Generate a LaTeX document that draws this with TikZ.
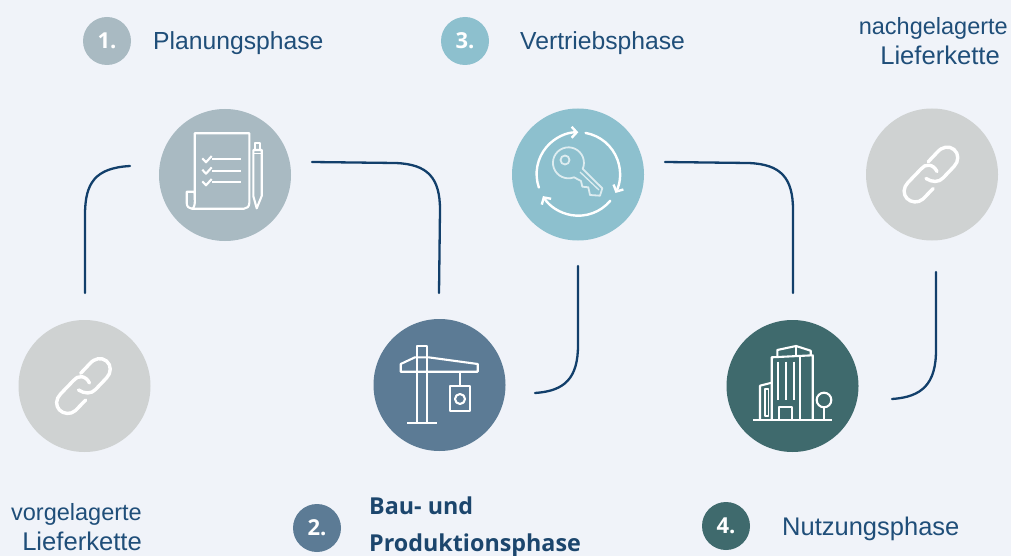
\documentclass[tikz,border=0pt]{standalone}
\usepackage{fontspec}
\setmainfont{Liberation Sans}
\newfontfamily\boldface{Open Sans}
\usetikzlibrary{arrows.meta}
\definecolor{bgc}{HTML}{F0F3F9}
\definecolor{navy}{HTML}{1F4E79}
\definecolor{linec}{HTML}{123F6B}
\definecolor{cplan}{HTML}{A9BAC2}
\definecolor{cbau}{HTML}{5C7B95}
\definecolor{cvert}{HTML}{8DC0CE}
\definecolor{cnutz}{HTML}{3F6A6D}
\definecolor{cgrey}{HTML}{CFD2D2}
\tikzset{
  x=1pt,y=-1pt,
  disc/.style={circle,draw=none,minimum size=132pt,inner sep=0pt},
  badge/.style={circle,draw=none,minimum size=48pt,inner sep=0pt,text=white,font=\fontsize{22}{24}\selectfont\boldface\bfseries},
  lab/.style={text=navy,inner sep=0pt,font=\fontsize{24.7}{30}\selectfont},
  boldlab/.style={text=navy!90!black,inner sep=0pt,align=left,font=\fontsize{23.3}{37}\selectfont\boldface\bfseries},
  conn/.style={draw=linec,line width=2.3pt,line cap=round},
  icon/.style={draw=white,line width=2.1pt,line join=round},
  softicon/.style={draw=white!70!cvert,line width=1.8pt,line join=round},
  pics/chainlink/.style={code={
    \draw[draw=white,line width=3.4pt,line cap=round,line join=round]
      (-3.8,-12.7) -- (5,-22) .. controls (10,-28) and (17,-29) .. (22,-25)
      .. controls (27,-21) and (27,-13) .. (22,-8) -- (11,3.5)
      .. controls (7,8) and (0,8) .. (-6,4);
    \draw[draw=white,line width=3.4pt,line cap=round,line join=round]
      (1.2,14) -- (-9,24.5) .. controls (-14,29) and (-21,28) .. (-25,24)
      .. controls (-29,20) and (-29,13) .. (-24,8) -- (-11,-5.5)
      .. controls (-7,-11) and (1,-11) .. (5,-3);
  }}
}
\begin{document}
\begin{tikzpicture}
\useasboundingbox (0,0) rectangle (1011,556);
\fill[bgc] (0,0) rectangle (1011,556);

% big discs
\node[disc,fill=cgrey] (chainA) at (84.5,386) {};
\node[disc,fill=cplan] (plan) at (225,175) {};
\node[disc,fill=cbau] (bau) at (439.5,385) {};
\node[disc,fill=cvert] (vert) at (578,174.5) {};
\node[disc,fill=cnutz] (nutz) at (792.5,386) {};
\node[disc,fill=cgrey] (chainB) at (932,174.5) {};

% badges and labels
\node[badge,fill=cplan] (b1) at (107,41) {1.};
\node[lab,anchor=west] (t1) at (153,43) {Planungsphase};
\node[badge,fill=cvert] (b3) at (465,41) {3.};
\node[lab,anchor=west] (t3) at (520,43) {Vertriebsphase};
\node[badge,fill=cbau] (b2) at (317,528) {2.};
\node[boldlab,anchor=west] (t2) at (369,527) {Bau- und\\Produktionsphase};
\node[badge,fill=cnutz] (b4) at (726,526) {4.};
\node[lab,anchor=west,font=\fontsize{25.5}{30}\selectfont] (t4) at (782,529) {Nutzungsphase};
\node[lab,align=right,anchor=north east] (tv) at (142,503) {{\fontsize{23.5}{30}\selectfont vorgelagerte}\\{\fontsize{25.6}{30}\selectfont Lieferkette}};
\node[lab,align=right,anchor=north east] (tn) at (1008,17) {{\fontsize{23.5}{30}\selectfont nachgelagerte}\\\mbox{\fontsize{25.6}{30}\selectfont Lieferkette\hspace{8pt}}};

% connector end points
\coordinate (c1a) at (85,293);
\coordinate (c1b) at (130,166);
\coordinate (c2a) at (312,162);
\coordinate (c2b) at (439,293);
\coordinate (c3a) at (535,393);
\coordinate (c3b) at (578,266);
\coordinate (c4a) at (665,162);
\coordinate (c4b) at (793,293);
\coordinate (c5a) at (892,399);
\coordinate (c5b) at (936,272);

\draw[conn] (c1a) -- (85,215) .. controls (85,183) and (95,168) .. (c1b);
\draw[conn] (c2a) -- (395,163) .. controls (428,164) and (440,178) .. (440,210) -- (c2b);
\draw[conn] (c3a) .. controls (565,391) and (578,378) .. (578,345) -- (c3b);
\draw[conn] (c4a) -- (748,163) .. controls (781,164) and (793,178) .. (793,210) -- (c4b);
\draw[conn] (c5a) .. controls (922,397) and (936,384) .. (936,350) -- (c5b);

% chain icons
\pic at (84.5,386) {chainlink};
\pic at (932,174.5) {chainlink};

% plan icon
\draw[icon] (194.7,200) -- (194.7,133.3) -- (249.3,133.3) -- (249.3,203)
  .. controls (249.3,206.5) and (247,208.7) .. (244,208.7) -- (191.7,208.7);
\draw[icon] (194.7,191.7) -- (186.7,191.7) -- (186.7,203)
  .. controls (186.7,206.5) and (189,208.7) .. (191.7,208.7)
  .. controls (194,208.7) and (195.5,206) .. (194.7,191.7);
\foreach \yy in {159.3,170.7,182.3}{
  \draw[icon] (212.3,\yy) -- (240.7,\yy);
  \draw[icon] (202.3,\yy-1) -- (206,\yy+3) -- (211.7,\yy-3.3);
}
\draw[icon,line width=1.7pt] (254.7,150) -- (254.7,142.7) -- (260,142.7) -- (260,150);
\draw[icon] (253.3,196) -- (253.3,150) -- (261.7,150) -- (261.7,196) -- (256.7,208.3) -- cycle;
\draw[icon,line width=1.6pt] (253.3,153.5) -- (261.7,153.5);

% key icon
\draw[icon,line cap=round,line width=2.4pt,-{Straight Barb[length=5pt,width=11pt]}]
  (578.3,174) ++(199:41.7pt) arc[start angle=199,end angle=90,radius=41.7pt];
\draw[icon,line cap=round,line width=2.4pt,-{Straight Barb[length=5pt,width=11pt]}]
  (578.3,174) ++(80:41.7pt) arc[start angle=80,end angle=-27,radius=41.7pt];
\draw[icon,line cap=round,line width=2.4pt,-{Straight Barb[length=5pt,width=11pt]}]
  (578.3,174) ++(-40:41.7pt) arc[start angle=-40,end angle=-148,radius=41.7pt];
\draw[softicon] (574,177.3) arc[start angle=-69,end angle=-383,radius=15.5pt]
  -- (602.3,188.3) -- (600,195.7) -- (590,195) -- (588.3,187.3) -- (582.3,186.7) -- (581,181) -- cycle;
\draw[softicon] (565,160) circle[radius=4.5pt];
\draw[softicon,line width=1.3pt] (580,172) -- (599,190);

% crane icon
\draw[icon] (416.7,422.7) -- (416.7,345.7) -- (427.3,345.7) -- (427.3,422.7);
\draw[icon] (407.3,422.7) -- (436.7,422.7);
\draw[icon] (400.7,371.7) -- (400.7,364) -- (415,357.3) -- (428.3,357.3) -- (477.7,364) -- (477.7,371.7) -- cycle;
\draw[icon] (460,371.7) -- (460,386);
\draw[icon] (450,386) rectangle (470.3,411);
\draw[icon] (460,399) circle[radius=5pt];

% building icon
\draw[icon] (753.3,420) -- (831.7,420);
\draw[icon] (771.7,420) -- (771.7,357.3) -- (812.7,355.3) -- (812.7,420);
\draw[icon] (800,420) -- (800,356);
\draw[icon] (777.3,356) -- (777.3,350) -- (796,346) -- (810.7,350.7) -- (810.7,355);
\draw[icon] (796,346) -- (796,355.5);
\foreach \xx in {777.7,785.7,794}{\draw[icon] (\xx,361.7) -- (\xx,400);}
\draw[icon] (779,420) -- (779,407.3) -- (792.3,407.3) -- (792.3,420);
\draw[icon] (760,420) -- (760,385.7) -- (771.7,382.7);
\draw[icon,line width=1.6pt] (765,389) rectangle (768.3,415.7);
\draw[icon] (824,400) circle[radius=7.3pt];
\draw[icon] (824,407.3) -- (824,420);
\end{tikzpicture}
\end{document}
